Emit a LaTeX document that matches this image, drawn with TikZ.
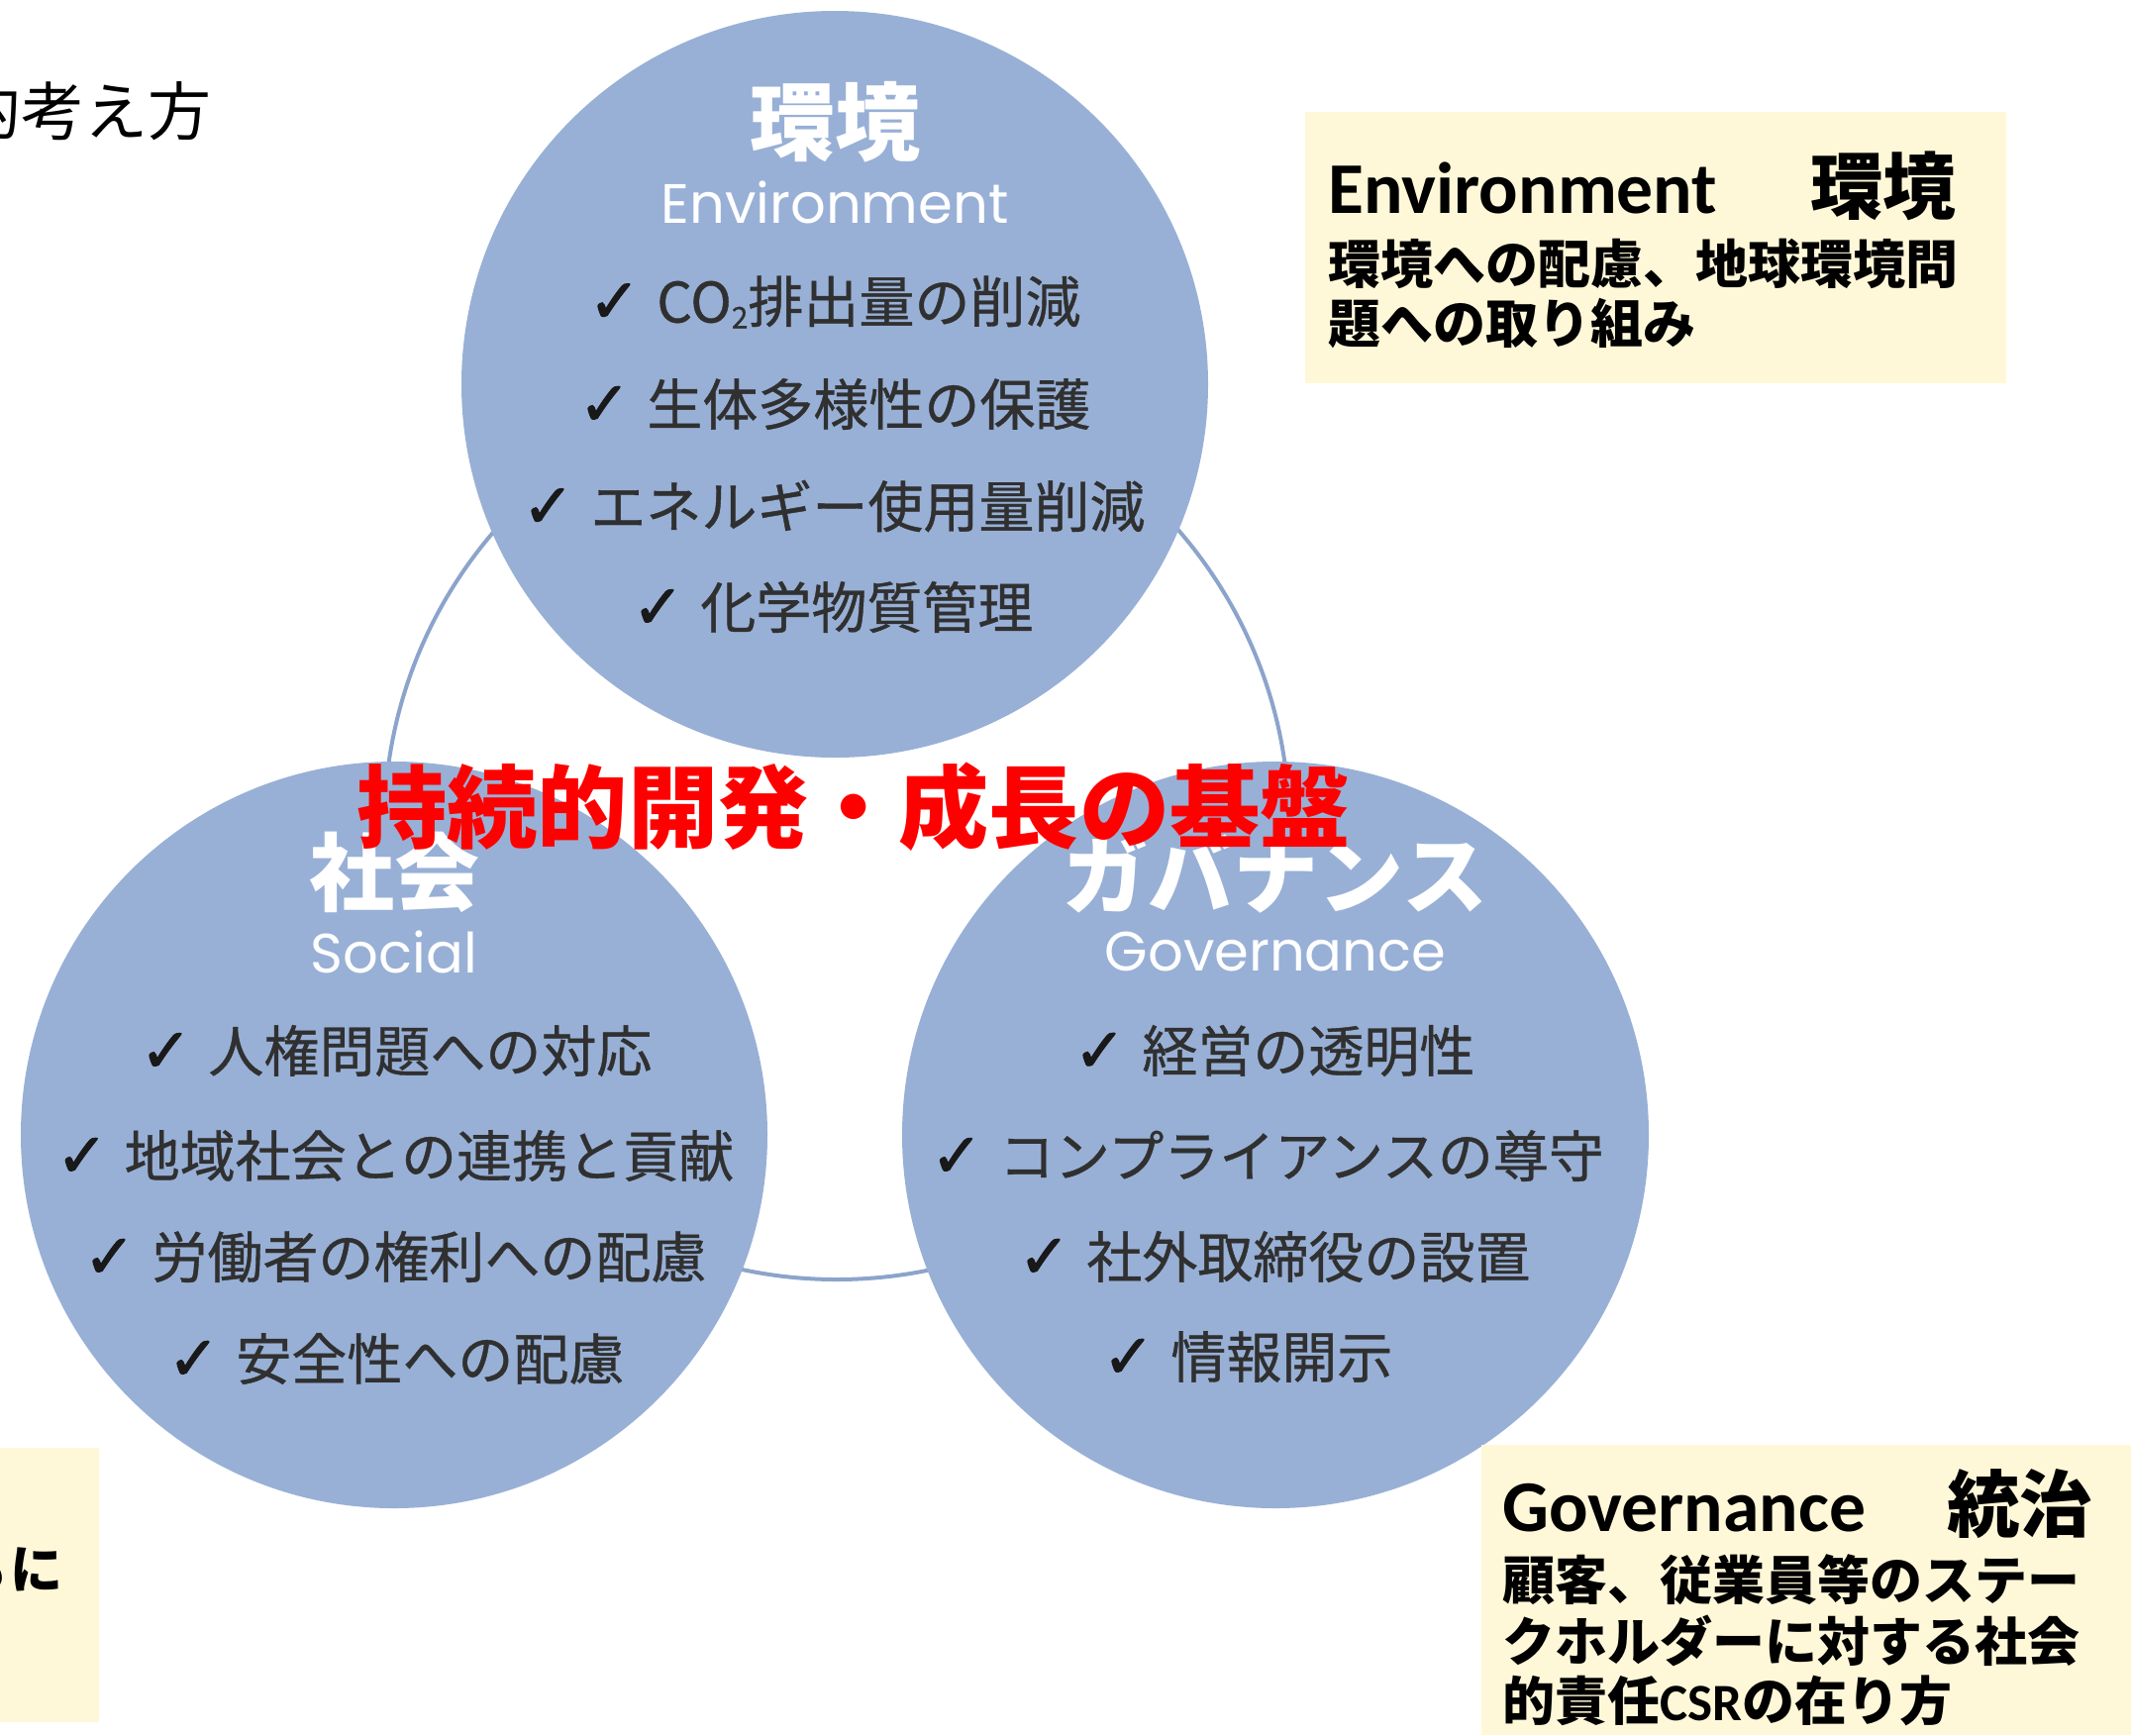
\documentclass[tikz,border=0pt]{standalone}
\usepackage{fontspec}
\setmainfont{Noto Sans CJK JP}
\newfontfamily\calib{Carlito}
\newfontfamily\dvfont{DejaVu Sans}[FakeBold=1.8]
\newfontfamily\popfont{Poppins}
\newfontfamily\itemfont{Noto Sans CJK JP}[FakeBold=0.7]
\definecolor{esgblue}{RGB}{152,176,214}
\definecolor{arcblue}{RGB}{140,164,204}
\definecolor{boxyel}{RGB}{255,248,216}
\definecolor{itemgray}{RGB}{48,48,48}
\newcommand\ck{{\dvfont\fontsize{31pt}{34pt}\selectfont\color{black!90}✓}\hspace{0.3em}}
\tikzset{
  circ/.style={circle, fill=esgblue, minimum size=377pt, inner sep=0pt},
  ring/.style={circle, draw=arcblue, line width=2pt, minimum size=457pt, inner sep=0pt},
  ttl/.style={text=white, font=\fontsize{43pt}{50pt}\selectfont\bfseries, inner sep=0pt},
  subttl/.style={text=white, font=\fontsize{28pt}{34pt}\selectfont\popfont, inner sep=0pt},
  item/.style={text=itemgray, font=\fontsize{28pt}{34pt}\selectfont\itemfont, inner sep=0pt},
  boxttl/.style={anchor=west, inner sep=0pt, font=\fontsize{36.8pt}{40pt}\selectfont\bfseries},
  boxtxt/.style={anchor=west, inner sep=0pt, font=\fontsize{26.5pt}{31pt}\selectfont\bfseries},
  core/.style={text=red, font=\fontsize{45.6pt}{50pt}\selectfont\bfseries, inner sep=0pt},
}
\begin{document}
\begin{tikzpicture}[x=0.5pt,y=-0.5pt]
\useasboundingbox (0,0) rectangle (2152,1752);
\fill[white] (0,0) rectangle (2152,1752);
% ring behind
\node[ring] (ring) at (845,835) {};
% circles
\node[circ] (env) at (843,388) {};
\node[circ] (soc) at (398,1146) {};
\node[circ] (gov) at (1288,1146) {};
% Environment circle
\node[ttl] (envt) at (843,123) {環境};
\node[subttl] (envs) at (843,204) {Environment};
\node[item] (e1) at (843,305) {\ck CO\raisebox{-3pt}{\fontsize{15pt}{15pt}\selectfont 2}排出量の削減};
\node[item] (e2) at (843,408) {\ck 生体多様性の保護};
\node[item] (e3) at (842,511) {\ck エネルギー使用量削減};
\node[item] (e4) at (841,613) {\ck 化学物質管理};
% Social circle
\node[ttl] (soct) at (398,881) {社会};
\node[subttl] (socs) at (398,961) {Social};
\node[item] (s1) at (400,1061) {\ck 人権問題への対応};
\node[item] (s2) at (399,1167) {\ck 地域社会との連携と貢献};
\node[item] (s3) at (399,1269) {\ck 労働者の権利への配慮};
\node[item] (s4) at (400,1372) {\ck 安全性への配慮};
% Governance circle
\node[ttl] (govt) at (1288,882) {ガバナンス};
\node[subttl] (govs) at (1288,961) {Governance};
\node[item] (g1) at (1287,1061) {\ck 経営の透明性};
\node[item] (g2) at (1280,1167) {\ck コンプライアンスの尊守};
\node[item] (g3) at (1287,1269) {\ck 社外取締役の設置};
\node[item] (g4) at (1260,1370) {\ck 情報開示};
% top-left heading (clipped)
\node[anchor=west, inner sep=0pt, font=\fontsize{32pt}{36pt}\selectfont] (tl) at (-43,112) {的考え方};
% Environment box
\fill[boxyel] (1318,113) rectangle (2026,387);
\node[boxttl] (ebt) at (1341,188) {{\calib Environment}\hspace{47pt}環境};
\node[boxtxt] (eb1) at (1341,266) {環境への配慮、地球環境問};
\node[boxtxt] (eb2) at (1341,327) {題への取り組み};
% Governance box
\fill[boxyel] (1496,1459) rectangle (2152,1752);
\node[boxttl] (gbt) at (1517,1519) {{\calib Governance}\hspace{41pt}統治};
\node[boxtxt] (gb1) at (1517,1595) {顧客、従業員等のステー};
\node[boxtxt] (gb2) at (1517,1657) {クホルダーに対する社会};
\node[boxtxt] (gb3) at (1517,1717) {的責任{\calib CSR}の在り方};
% Social box (clipped at left)
\fill[boxyel] (0,1462) rectangle (100,1739);
\node[boxtxt, anchor=east] (sb1) at (64,1585) {とも\hspace{1.5pt}に};
% central red text
\node[core] (center) at (862,815) {持続的開発・成長の基盤};
\end{tikzpicture}
\end{document}
